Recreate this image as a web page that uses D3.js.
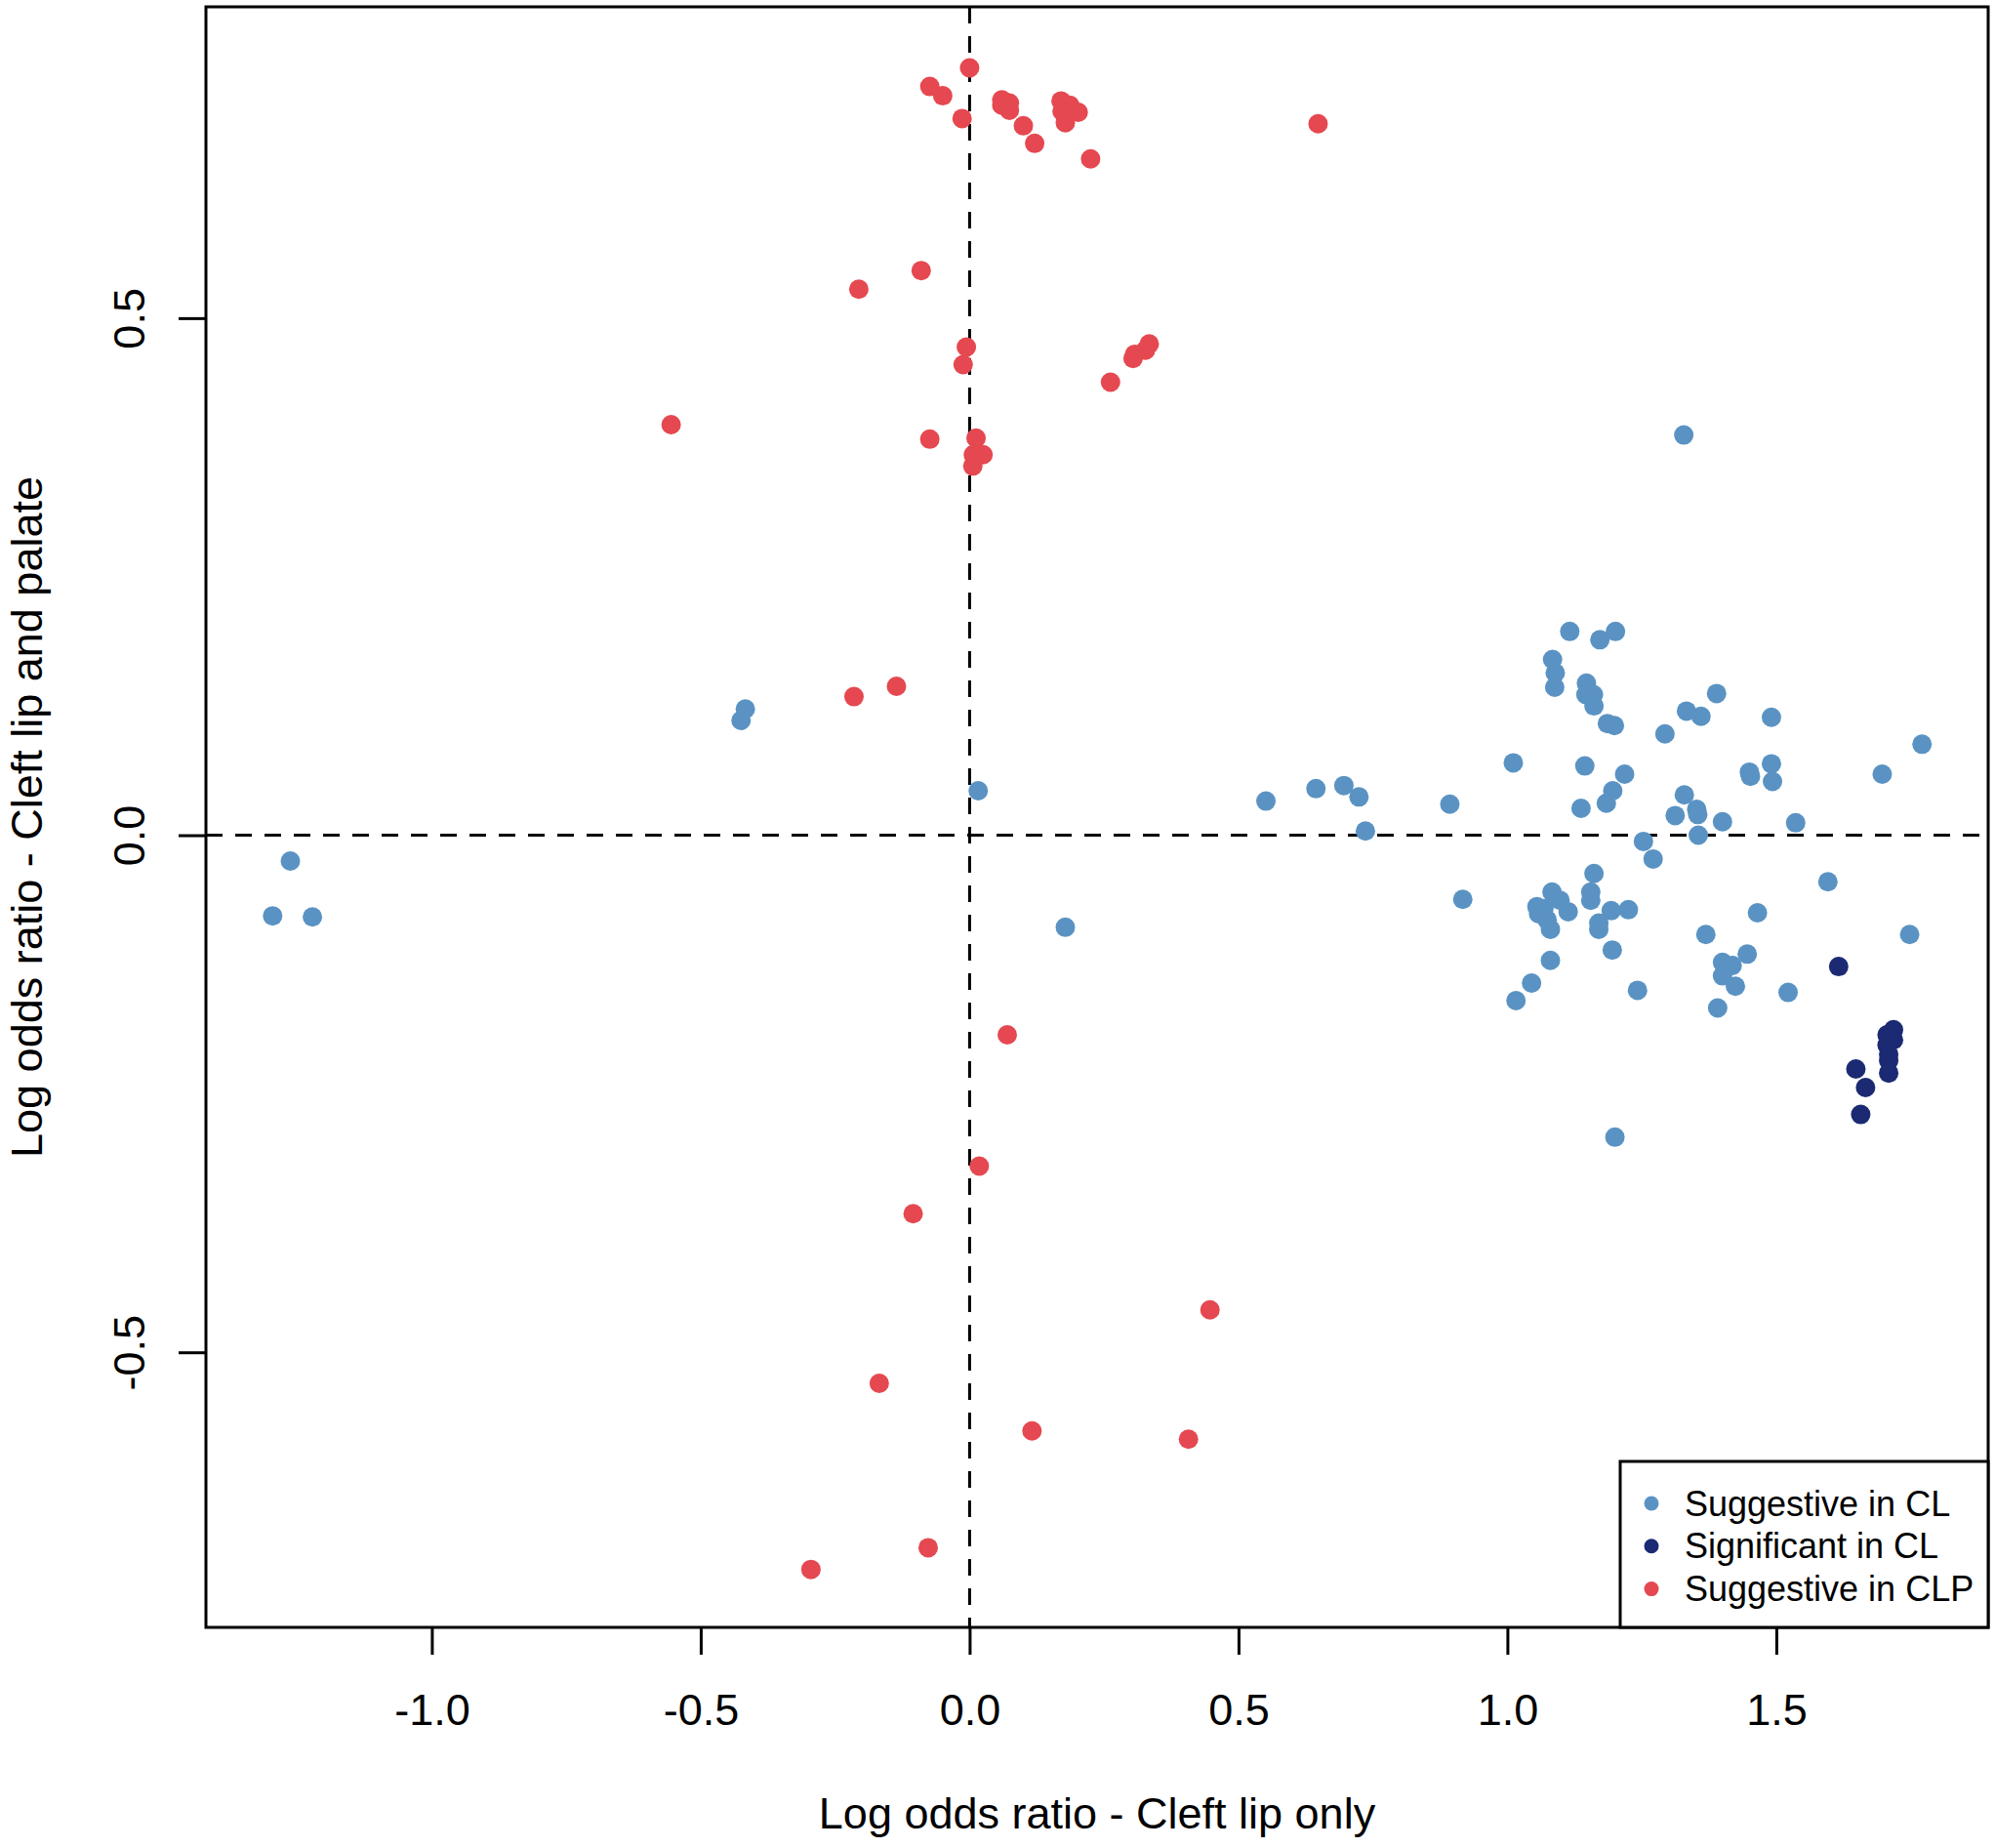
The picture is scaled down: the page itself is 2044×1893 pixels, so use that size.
<!DOCTYPE html>
<html>
<head>
<meta charset="utf-8">
<script src="https://cdnjs.cloudflare.com/ajax/libs/d3/7.8.5/d3.min.js"></script>
<style>
	body { margin: 0; background: #fff; }
	svg text { font-family: "Liberation Sans", Arial, sans-serif; fill: #000; }
</style>
</head>
<body>
<div id="chart"></div>
<script>
// Suggestive in CL (light blue)
var clX = [-1.296, -1.222, -1.263, -0.417, -0.425, 0.016, 0.178, 0.551, 0.644, 0.696,
	0.724, 0.736, 0.893, 0.917, 1.011, 1.328, 1.116, 1.172, 1.201, 1.084,
	1.089, 1.088, 1.147, 1.146, 1.160, 1.161, 1.186, 1.199, 1.389, 1.333,
	1.360, 1.491, 1.293, 1.771, 1.144, 1.218, 1.450, 1.452, 1.491, 1.493,
	1.697, 1.137, 1.196, 1.184, 1.329, 1.352, 1.354, 1.312, 1.400, 1.536,
	1.355, 1.253, 1.271, 1.161, 1.596, 1.083, 1.098, 1.055, 1.068, 1.113,
	1.058, 1.074, 1.080, 1.155, 1.155, 1.193, 1.225, 1.170, 1.170, 1.195,
	1.080, 1.045, 1.016, 1.242, 1.465, 1.369, 1.446, 1.400, 1.418, 1.400,
	1.424, 1.391, 1.522, 1.748, 1.200];
var clY = [-0.078, -0.079, -0.025, 0.122, 0.111, 0.043, -0.089, 0.033, 0.045, 0.048,
	0.037, 0.004, 0.030, -0.062, 0.070, 0.387, 0.197, 0.189, 0.197, 0.170,
	0.157, 0.143, 0.147, 0.136, 0.136, 0.125, 0.108, 0.106, 0.137, 0.120,
	0.115, 0.114, 0.098, 0.088, 0.067, 0.059, 0.061, 0.057, 0.069, 0.052,
	0.059, 0.026, 0.043, 0.031, 0.039, 0.025, 0.020, 0.019, 0.013, 0.012,
	0.000, -0.006, -0.023, -0.037, -0.045, -0.055, -0.063, -0.069, -0.071, -0.074,
	-0.076, -0.082, -0.091, -0.055, -0.063, -0.073, -0.072, -0.085, -0.091, -0.111,
	-0.121, -0.143, -0.160, -0.150, -0.075, -0.096, -0.115, -0.123, -0.126, -0.136,
	-0.146, -0.167, -0.152, -0.096, -0.292];

// Significant in CL (navy)
var sigX = [1.616, 1.718, 1.706, 1.718, 1.706, 1.709, 1.709, 1.709, 1.648, 1.666, 1.657];
var sigY = [-0.127, -0.188, -0.193, -0.198, -0.203, -0.212, -0.218, -0.230, -0.226, -0.244, -0.270];

// Suggestive in CLP (red)
var clpX = [0.000, -0.074, -0.050, -0.014, 0.060, 0.074, 0.060, 0.074, 0.100, 0.121,
	0.170, 0.186, 0.172, 0.202, 0.178, 0.225, 0.648,
	-0.090, -0.206, -0.006, -0.012, 0.334, 0.327, 0.307, 0.304, 0.262,
	-0.555, -0.074, 0.012, 0.025, 0.007, 0.006,
	-0.215, -0.136,
	0.070, 0.018, -0.105, 0.447, -0.168, 0.116, 0.407, -0.077, -0.295];
var clpY = [0.742, 0.724, 0.715, 0.693, 0.711, 0.708, 0.706, 0.701, 0.686, 0.669,
	0.710, 0.706, 0.700, 0.699, 0.689, 0.654, 0.688,
	0.546, 0.528, 0.472, 0.455, 0.475, 0.469, 0.465, 0.461, 0.438,
	0.397, 0.383, 0.384, 0.368, 0.368, 0.357,
	0.134, 0.144,
	-0.193, -0.320, -0.366, -0.459, -0.530, -0.576, -0.584, -0.689, -0.710];

var xTicks = [-1.0, -0.5, 0.0, 0.5, 1.0, 1.5];
var yTicks = [-0.5, 0.0, 0.5];
var legendLabels = ["Suggestive in CL", "Significant in CL", "Suggestive in CLP"];
var colours = ["#5a93c3", "#1b2a72", "#e54850"];

var W = 2044, H = 1893;
var plot = { left: 211, right: 2037, top: 7, bottom: 1667 };

var svg = d3.select("#chart").append("svg")
	.attr("width", W)
	.attr("height", H);

var x = d3.scaleLinear().domain([-1.42, 1.894]).range([plot.left, plot.right]);
var y = d3.scaleLinear().domain([-0.766, 0.801]).range([plot.bottom, plot.top]);

function zip(xs, ys) {
	return xs.map(function(d, i) { return [d, ys[i]]; });
}

// R style labels, plain hyphen for minus
var fmt = function(d) { return d.toFixed(1); };

// reference lines at zero
svg.append("line")
	.attr("x1", x(0)).attr("x2", x(0))
	.attr("y1", plot.top).attr("y2", plot.bottom)
	.attr("stroke", "#000").attr("stroke-width", 3)
	.attr("stroke-dasharray", "17,13");
svg.append("line")
	.attr("x1", plot.left).attr("x2", plot.right)
	.attr("y1", y(0)).attr("y2", y(0))
	.attr("stroke", "#000").attr("stroke-width", 3)
	.attr("stroke-dasharray", "17,13");

// points
var series = [zip(clX, clY), zip(sigX, sigY), zip(clpX, clpY)];
series.forEach(function(pts, k) {
	svg.append("g").selectAll("circle")
		.data(pts)
		.enter().append("circle")
			.attr("cx", function(d) { return x(d[0]); })
			.attr("cy", function(d) { return y(d[1]); })
			.attr("r", 10)
			.attr("fill", colours[k]);
});

// axes
var xAxis = svg.append("g")
	.attr("transform", "translate(0," + plot.bottom + ")")
	.call(d3.axisBottom(x).tickValues(xTicks).tickSize(28).tickPadding(0).tickFormat(fmt));
var yAxis = svg.append("g")
	.attr("transform", "translate(" + plot.left + ",0)")
	.call(d3.axisLeft(y).tickValues(yTicks).tickSize(28).tickFormat(fmt));

[xAxis, yAxis].forEach(function(a) {
	a.select(".domain").remove();
	a.selectAll(".tick line").attr("stroke", "#000").attr("stroke-width", 3);
	a.selectAll("text").attr("font-size", 45).attr("font-family", "Liberation Sans, Arial, sans-serif");
});
xAxis.selectAll(".tick text")
	.attr("y", 100)
	.attr("dy", 0);
yAxis.selectAll(".tick text")
	.attr("x", 0).attr("dy", 0)
	.attr("text-anchor", "middle")
	.attr("transform", "translate(-63,0) rotate(-90)");

// frame
svg.append("rect")
	.attr("x", plot.left).attr("y", plot.top)
	.attr("width", plot.right - plot.left)
	.attr("height", plot.bottom - plot.top)
	.attr("fill", "none").attr("stroke", "#000").attr("stroke-width", 3);

// titles
svg.append("text")
	.attr("x", (plot.left + plot.right) / 2)
	.attr("y", 1873)
	.attr("text-anchor", "middle")
	.attr("font-size", 45)
	.text("Log odds ratio - Cleft lip only");
svg.append("text")
	.attr("transform", "translate(43," + (plot.top + plot.bottom) / 2 + ") rotate(-90)")
	.attr("text-anchor", "middle")
	.attr("font-size", 45)
	.text("Log odds ratio - Cleft lip and palate");

// legend
var lg = svg.append("g");
lg.append("rect")
	.attr("x", 1660).attr("y", 1497)
	.attr("width", plot.right - 1660).attr("height", plot.bottom - 1497)
	.attr("fill", "#fff").attr("stroke", "#000").attr("stroke-width", 3);
var items = lg.selectAll("g.item")
	.data(legendLabels)
	.enter().append("g")
		.attr("class", "item")
		.attr("transform", function(d, i) { return "translate(1692," + (1540 + i * 43.8) + ")"; });
items.append("circle")
	.attr("r", 7.5)
	.attr("fill", function(d, i) { return colours[i]; });
items.append("text")
	.attr("x", 34)
	.attr("y", 12.5)
	.attr("font-size", 36)
	.text(function(d) { return d; });
</script>
</body>
</html>
